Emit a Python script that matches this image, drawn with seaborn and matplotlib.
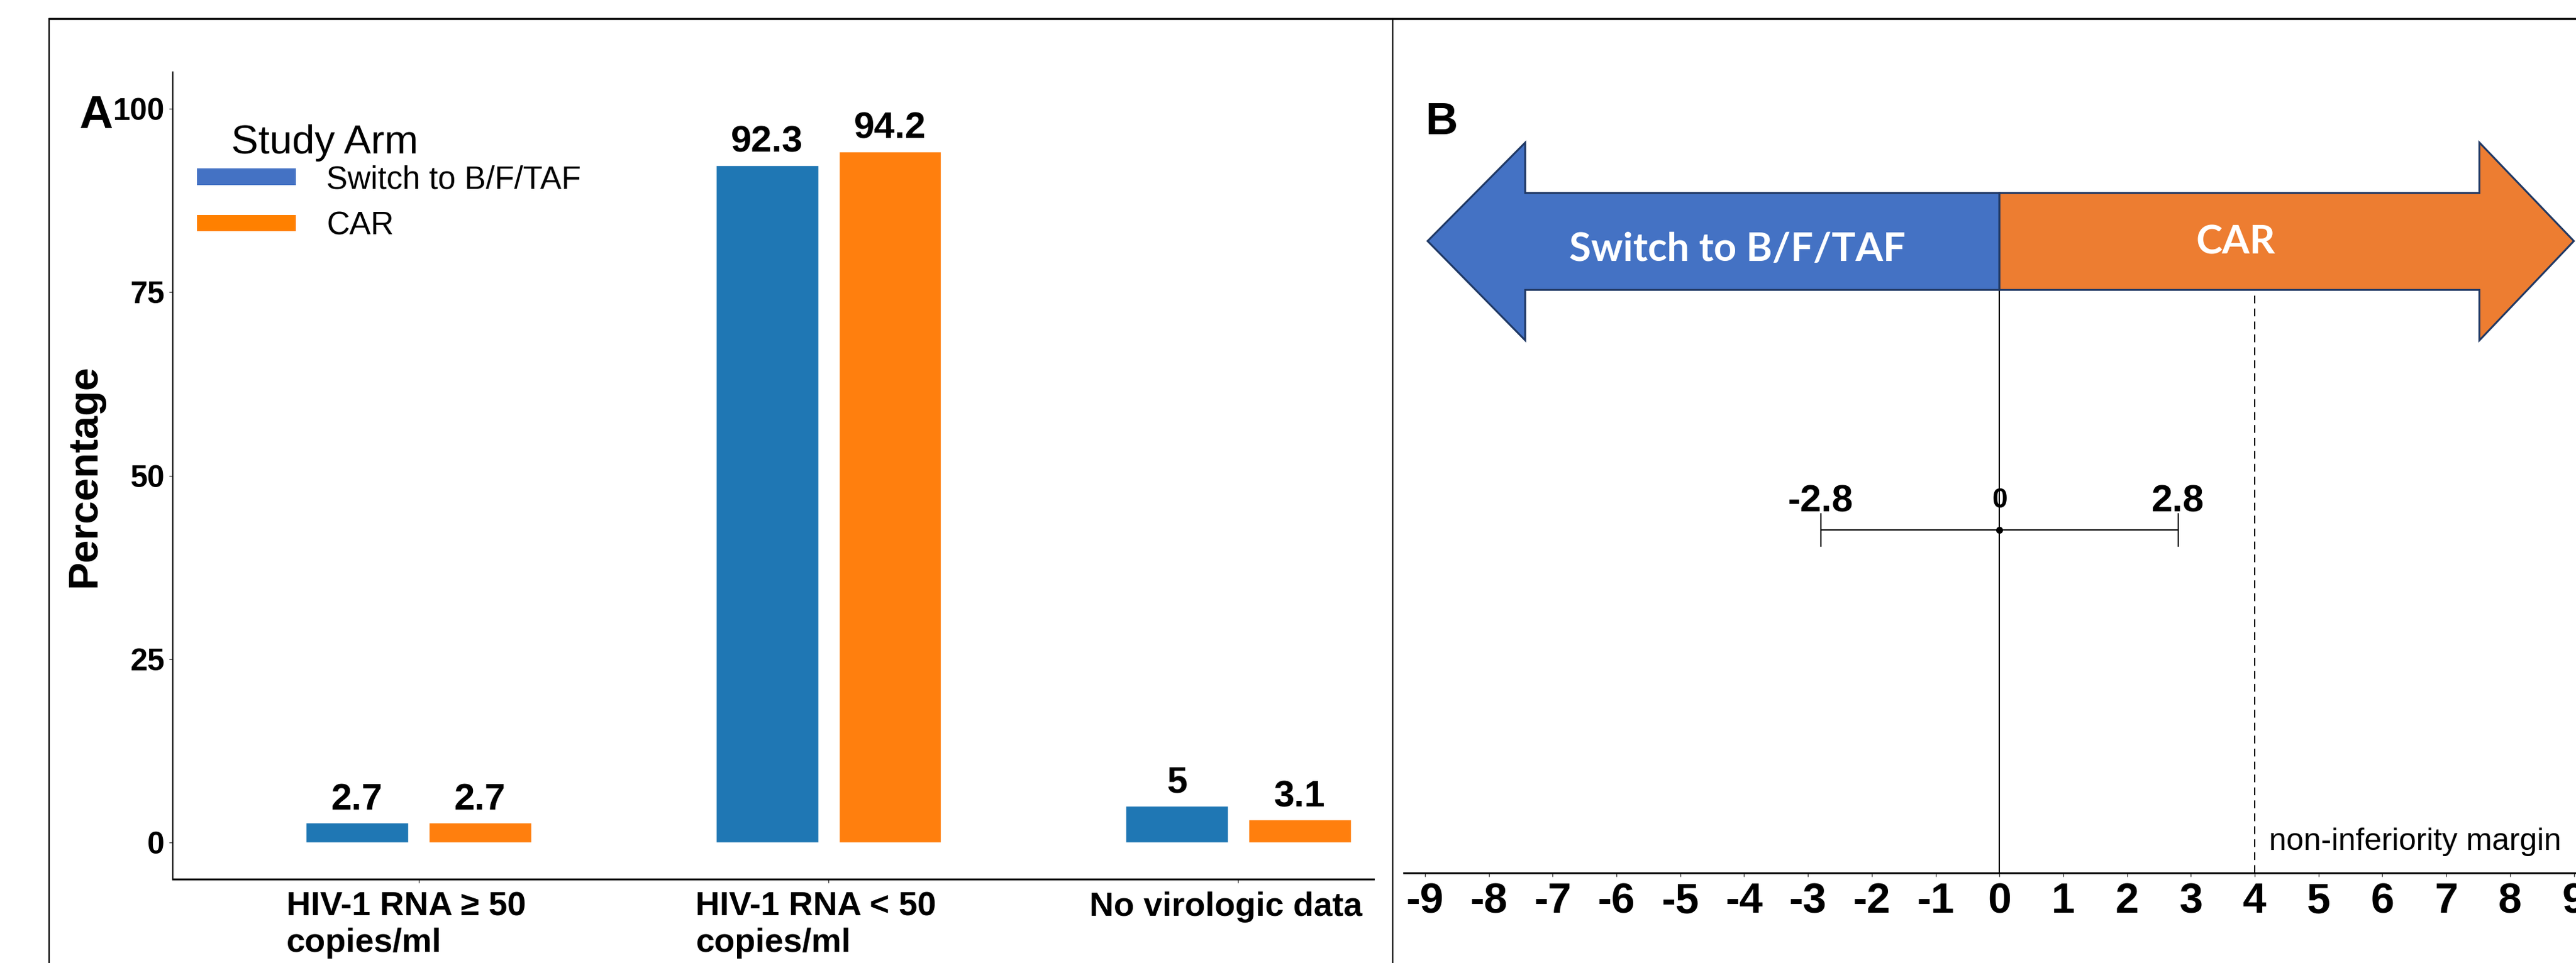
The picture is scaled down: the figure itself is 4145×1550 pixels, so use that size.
import matplotlib.pyplot as plt
import seaborn as sns
import pandas as pd
from matplotlib.patches import Patch, Polygon
from matplotlib.lines import Line2D
from matplotlib.transforms import ScaledTranslation

# --- DATA ---
OUTCOMES = ["HIV-1 RNA \u2265 50\ncopies/ml", "HIV-1 RNA < 50\ncopies/ml", "No virologic data"]
ARMS = ["Switch to B/F/TAF", "CAR"]
SWITCH_PCT = [2.7, 92.3, 5.0]
CAR_PCT = [2.7, 94.2, 3.1]
Y_TICKS = [0, 25, 50, 75, 100]

DIFF_EST = 0.0
CI_LOW = -2.8
CI_HIGH = 2.8
NI_MARGIN = 4
DIFF_TICKS = list(range(-9, 10))

# --- STYLE ---
BAR_COLORS = ["#1F77B4", "#FF7F0E"]
LEGEND_COLORS = ["#4472C4", "#FF8000"]
ARROW_COLORS = ["#4472C4", "#ED7D31"]
ARROW_EDGE = "#1F3864"

W, H = 4145, 1550


def fx(px):
    return px / W


def fy(py):
    return 1 - py / H


sns.set_theme(style="white")
plt.rcParams['font.family'] = ['Liberation Sans', 'DejaVu Sans']
plt.rcParams.update({'text.color': 'black', 'axes.labelcolor': 'black',
                     'xtick.color': 'black', 'ytick.color': 'black'})

fig = plt.figure(figsize=(W / 100, H / 100), dpi=100)

# ==========================================
# PANEL A: grouped bars
# ==========================================
ax_a = fig.add_axes([fx(278), fy(1415), fx(2210) - fx(278), (1415 - 116) / H])
df = pd.DataFrame({
    'outcome': OUTCOMES * 2,
    'arm': [ARMS[0]] * len(OUTCOMES) + [ARMS[1]] * len(OUTCOMES),
    'pct': SWITCH_PCT + CAR_PCT,
})
sns.barplot(data=df, x='outcome', y='pct', hue='arm', order=OUTCOMES, hue_order=ARMS,
            palette=BAR_COLORS, saturation=1, width=0.6, gap=1 / 6, legend=False, ax=ax_a)

for cont, vals in zip(ax_a.containers, [SWITCH_PCT, CAR_PCT]):
    ax_a.bar_label(cont, labels=[f"{v:g}" for v in vals], padding=6.5,
                   fontsize=43, fontweight='bold')

ax_a.set_ylim(-5, 105)
ax_a.set_xlim(-0.6, 2.33)
ax_a.set_yticks(Y_TICKS)
ax_a.set_xlabel('')
ax_a.set_ylabel('Percentage', fontsize=48, fontweight='bold')
ax_a.yaxis.set_label_coords((137 - 278) / 1932, 0.5)
ax_a.yaxis.label.set_verticalalignment('center')

for s in ['top', 'right']:
    ax_a.spines[s].set_visible(False)
ax_a.spines['left'].set_color('black'); ax_a.spines['left'].set_linewidth(1.5)
ax_a.spines['bottom'].set_color('black'); ax_a.spines['bottom'].set_linewidth(2.2)

ax_a.tick_params(axis='y', left=True, length=4.3, width=1, pad=5, labelsize=36, color='#333333')
ax_a.tick_params(axis='x', bottom=True, length=4.3, width=1, pad=10, labelsize=39, color='#333333')
for t in ax_a.get_yticklabels():
    t.set_fontweight('bold')
shift = ScaledTranslation(-0.2, 0, fig.dpi_scale_trans)
for t in ax_a.get_xticklabels():
    t.set_fontweight('bold')
    t.set_multialignment('left')
    t.set_transform(t.get_transform() + shift)

handles = [Patch(facecolor=c, edgecolor='none') for c in LEGEND_COLORS]
ax_a.legend(handles, ARMS, loc='upper left', bbox_to_anchor=(fx(317), fy(265)),
            bbox_transform=fig.transFigure, frameon=False, fontsize=37,
            handlelength=3.1, handleheight=0.41, handletextpad=0.95,
            labelspacing=0.5, borderpad=0, borderaxespad=0)
fig.text(fx(372), fy(247), 'Study Arm', fontsize=47, ha='left', va='baseline')

# ==========================================
# PANEL B: difference with 95% CI
# ==========================================
ax_b = fig.add_axes([fx(2259), fy(1405), fx(4200) - fx(2259), (1405 - 116) / H])
ax_b.patch.set_alpha(0)
ax_b.set_xlim(-9.331, 9.569)
ax_b.set_ylim(0, 10)
ax_b.set_xticks(DIFF_TICKS)
ax_b.set_xticklabels([str(t) for t in DIFF_TICKS])
ax_b.set_yticks([])
for s in ['top', 'right', 'left']:
    ax_b.spines[s].set_visible(False)
ax_b.spines['bottom'].set_color('black'); ax_b.spines['bottom'].set_linewidth(2.2)
ax_b.tick_params(axis='x', bottom=True, length=4.3, width=1, pad=6, labelsize=49, color='#333333')
for t in ax_b.get_xticklabels():
    t.set_fontweight('bold')

# double arrow (layout geometry in data units)
ARROW_MID, SHAFT_TOP, SHAFT_BOT, HEAD_TOP, HEAD_BOT = 7.89, 8.49, 7.28, 9.12, 6.65
left_pts = [(-8.96, ARROW_MID), (-7.43, HEAD_TOP), (-7.43, SHAFT_TOP), (0, SHAFT_TOP),
            (0, SHAFT_BOT), (-7.43, SHAFT_BOT), (-7.43, HEAD_BOT)]
right_pts = [(9.0, ARROW_MID), (7.52, HEAD_TOP), (7.52, SHAFT_TOP), (0, SHAFT_TOP),
             (0, SHAFT_BOT), (7.52, SHAFT_BOT), (7.52, HEAD_BOT)]
for pts, c in zip([left_pts, right_pts], ARROW_COLORS):
    ax_b.add_patch(Polygon(pts, closed=True, facecolor=c, edgecolor=ARROW_EDGE,
                           linewidth=2.2, joinstyle='miter', clip_on=False, zorder=3))
ax_b.text(-4.11, 7.64, ARMS[0], color='white', fontsize=46, fontweight='bold',
          family=['Lato', 'DejaVu Sans'], ha='center', va='baseline', zorder=4)
ax_b.text(3.70, 7.73, ARMS[1], color='white', fontsize=46, fontweight='bold',
          family=['Lato', 'DejaVu Sans'], ha='center', va='baseline', zorder=4)

ax_b.vlines(DIFF_EST, 0, SHAFT_BOT, color='black', linewidth=1.5, zorder=2)
ax_b.vlines(NI_MARGIN, 0, SHAFT_BOT, color='black', linewidth=1.5,
            linestyles=(0, (6, 4)), zorder=2)

ROW_Y = 4.28
ax_b.errorbar([DIFF_EST], [ROW_Y], xerr=[[DIFF_EST - CI_LOW], [CI_HIGH - DIFF_EST]],
              fmt='o', color='black', ms=7, lw=1.5, capsize=19.4, capthick=1.5, zorder=3)
ax_b.text(CI_LOW, 4.51, f"{CI_LOW:g}", fontsize=44, fontweight='bold', ha='center', va='baseline')
ax_b.text(CI_HIGH, 4.51, f"{CI_HIGH:g}", fontsize=44, fontweight='bold', ha='center', va='baseline')
ax_b.text(DIFF_EST, 4.56, f"{DIFF_EST:g}", fontsize=32, fontweight='bold', ha='center', va='baseline')
ax_b.text(NI_MARGIN + 0.22, 0.29, 'non-inferiority margin', fontsize=36, ha='left', va='baseline')

# ==========================================
# FRAME + PANEL LETTERS
# ==========================================
fig.add_artist(Line2D([fx(79), 1], [fy(30), fy(30)], color='black', linewidth=2.5))
fig.add_artist(Line2D([fx(79), fx(79)], [0, fy(30)], color='black', linewidth=1.6))
fig.add_artist(Line2D([fx(2241), fx(2241)], [0, fy(30)], color='black', linewidth=1.6))
fig.text(fx(127), fy(206), 'A', fontsize=54, fontweight='bold', ha='left', va='baseline')
fig.text(fx(2293), fy(216), 'B', fontsize=52, fontweight='bold', ha='left', va='baseline')

fig.savefig('out.png', dpi=100)
